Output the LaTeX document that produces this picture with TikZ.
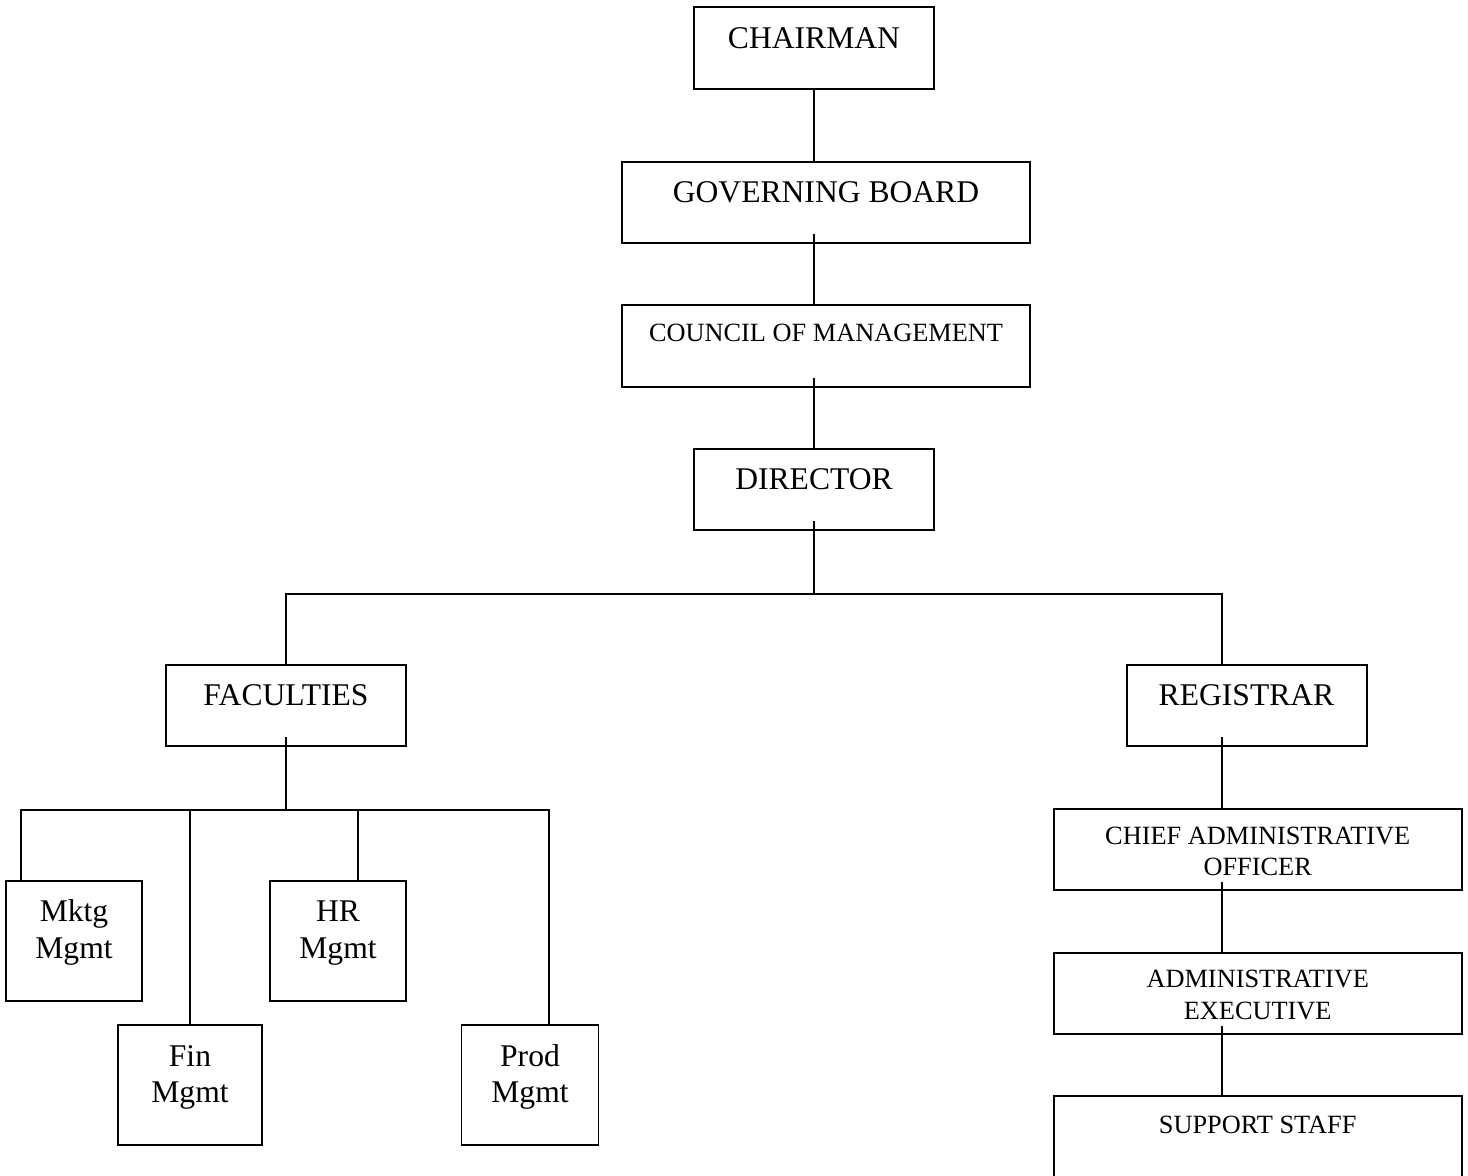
\documentclass[tikz,border=0pt]{standalone}
\usepackage{fontspec}
\setmainfont{Liberation Serif}
\usetikzlibrary{calc}

\newcommand{\px}{0.3798pt}
\tikzset{
  post/.style 2 args={draw, line width=0.75pt, inner sep=0pt,
    minimum width=#1*\px, minimum height=#2*\px, align=center,
    font=\fontsize{12}{13.8}\selectfont, text height=0pt, text depth=0pt},
  small/.style={font=\fontsize{10}{11.9}\selectfont, text depth=#1},
  small/.default=2.9pt,
  two/.style={text height=#1, text depth=0pt},
  link/.style={line width=0.75pt},
}

\begin{document}
\begin{tikzpicture}[x=\px, y=-\px]
    \useasboundingbox (0,0) rectangle (1468,1175);

    % Top of the chain
    \node[post={240}{82}] (chair) at (814,48) {CHAIRMAN};
    \node[post={408}{81}] (gov) at (826,202) {GOVERNING BOARD};
    \node[post={408}{82}, small] (council) at (826,345.5) {COUNCIL OF MANAGEMENT};
    \node[post={240}{81}] (director) at (814,489.5) {DIRECTOR};

    % Second level
    \node[post={240}{81}] (faculties) at (286,705.5) {FACULTIES};
    \node[post={240}{81}] (registrar) at (1246.5,705.5) {REGISTRAR};

    % Faculties
    \node[post={136}{120}, two=13.2pt] (mktg) at (74,940.7) {Mktg\\Mgmt};
    \node[post={144}{120}, two=13.2pt] (fin) at (190,1085) {Fin\\Mgmt};
    \node[post={136}{120}, two=13.2pt] (hr) at (338,940.7) {HR\\Mgmt};
    \node[post={137}{120}, two=13.2pt] (prod) at (530,1085) {Prod\\Mgmt};

    % Registrar side
    \node[post={408}{81}, small, two=19.8pt] (cao) at (1257.7,849.5) {CHIEF ADMINISTRATIVE\\OFFICER};
    \node[post={408}{81}, small, two=19.6pt] (ae) at (1257.7,993.4) {ADMINISTRATIVE\\EXECUTIVE};
    \node[post={408}{82}, small] (staff) at (1257.7,1137) {SUPPORT STAFF};

    % Main line
    \draw[link] (chair.south) -- (chair.south |- gov.north);
    \draw[link] ($(gov.south -| chair.south)+(0,-10)$) -- (chair.south |- council.north);
    \draw[link] ($(council.south -| chair.south)+(0,-10)$) -- (director.north);
    \draw[link] ($(director.south)+(0,-10)$) -- ++(0,72.7) coordinate (split);
    \coordinate (rtap) at ($(registrar.north)+(-24.5,0)$);
    \draw[link] (faculties.north) |- (split) -| (rtap);

    % Faculty bus
    \draw[link] ($(faculties.south)+(0,-10)$) -- ++(0,73) coordinate (fbus);
    \coordinate (mk) at ($(mktg.north west)+(16,0)$);
    \coordinate (hrt) at ($(hr.north)+(20,0)$);
    \coordinate (pr) at ($(prod.north)+(19.3,0)$);
    \draw[link] (mk) |- (fbus) -| (pr);
    \draw[link] (fin.north) -- (fin.north |- fbus);
    \draw[link] (hrt) -- (hrt |- fbus);

    % Registrar chain
    \draw[link] ($(rtap |- registrar.south)+(0,-10)$) -- (rtap |- cao.north);
    \draw[link] ($(rtap |- cao.south)+(0,-9)$) -- (rtap |- ae.north);
    \draw[link] ($(rtap |- ae.south)+(0,-9)$) -- (rtap |- staff.north);
\end{tikzpicture}
\end{document}
